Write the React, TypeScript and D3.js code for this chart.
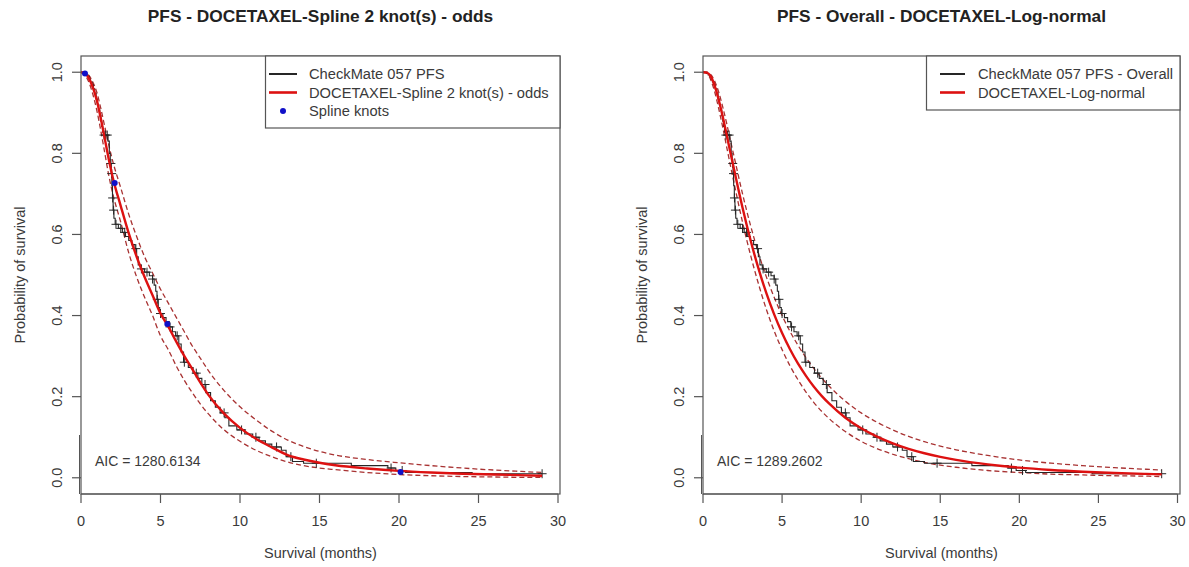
import React from 'react';
import * as d3 from 'd3';

// ---------- data ----------
const xTicks = [0, 5, 10, 15, 20, 25, 30];
const yTicks = [0, 0.2, 0.4, 0.6, 0.8, 1.0];

// Kaplan-Meier step points (time in months, survival after step)
const kmTimes = [0.23, 0.33, 0.43, 0.52, 0.6, 0.7, 0.78, 0.86, 0.95, 1.03, 1.1, 1.18, 1.25, 1.3, 1.36, 1.42, 1.7, 1.78, 1.84, 1.9, 1.94, 1.98, 2.02, 2.07, 2.15, 2.35, 2.6, 2.8, 3.0, 3.2, 3.4, 3.5, 3.6, 3.75, 4.0, 4.3, 4.5, 4.6, 4.7, 4.78, 4.86, 4.95, 5.15, 5.35, 5.55, 5.75, 5.95, 6.15, 6.3, 6.45, 6.75, 7.05, 7.35, 7.6, 7.85, 8.15, 8.45, 8.75, 9.05, 9.3, 9.8, 10.3, 10.8, 11.2, 11.6, 12.0, 12.6, 12.9, 13.3, 14.0, 17.0, 19.3, 19.8, 20.4, 24.6];
const kmSurv = [0.997, 0.993, 0.99, 0.983, 0.976, 0.969, 0.959, 0.948, 0.934, 0.921, 0.907, 0.893, 0.879, 0.866, 0.852, 0.845, 0.83, 0.8, 0.775, 0.75, 0.72, 0.69, 0.66, 0.64, 0.625, 0.615, 0.605, 0.595, 0.585, 0.575, 0.565, 0.545, 0.525, 0.515, 0.507, 0.498, 0.49, 0.475, 0.46, 0.44, 0.42, 0.405, 0.395, 0.385, 0.372, 0.36, 0.35, 0.33, 0.31, 0.285, 0.272, 0.258, 0.245, 0.23, 0.21, 0.19, 0.174, 0.16, 0.148, 0.128, 0.118, 0.108, 0.1, 0.091, 0.083, 0.076, 0.068, 0.052, 0.04, 0.036, 0.03, 0.024, 0.018, 0.013, 0.01];
const kmEnd = 29.0;
const censorTimes = [1.45, 1.55, 1.65, 1.88, 1.93, 1.99, 2.05, 2.2, 2.5, 2.75, 3.45, 3.8, 4.15, 4.5, 4.8, 5.0, 5.6, 6.05, 6.5, 7.25, 7.8, 9.0, 10.1, 11.0, 12.3, 13.2, 14.8, 19.5, 20.2, 29.0];

// fitted curves evaluated at these times
const fitTimes = [0, 0.25, 0.5, 0.75, 1, 1.25, 1.5, 1.75, 2, 2.5, 3, 3.5, 4, 4.5, 5, 5.5, 6, 6.5, 7, 7.5, 8, 9, 10, 11, 12, 13, 14, 15, 16, 18, 20, 22, 24, 26, 28, 29];

const splineFit = [1.0, 0.997, 0.985, 0.962, 0.93, 0.885, 0.835, 0.785, 0.74, 0.67, 0.603, 0.545, 0.495, 0.45, 0.405, 0.372, 0.335, 0.3, 0.268, 0.235, 0.205, 0.158, 0.123, 0.096, 0.075, 0.056, 0.045, 0.037, 0.031, 0.023, 0.017, 0.013, 0.01, 0.008, 0.006, 0.005];
const splineUpper = [1.0, 0.999, 0.992, 0.975, 0.95, 0.91, 0.865, 0.82, 0.78, 0.715, 0.65, 0.595, 0.545, 0.505, 0.465, 0.43, 0.395, 0.36, 0.325, 0.295, 0.265, 0.215, 0.175, 0.143, 0.115, 0.093, 0.077, 0.065, 0.056, 0.045, 0.037, 0.03, 0.024, 0.019, 0.015, 0.013];
const splineLower = [1.0, 0.993, 0.975, 0.945, 0.905, 0.855, 0.8, 0.745, 0.7, 0.63, 0.555, 0.495, 0.445, 0.4, 0.35, 0.315, 0.275, 0.24, 0.21, 0.182, 0.158, 0.118, 0.09, 0.068, 0.052, 0.039, 0.03, 0.024, 0.02, 0.013, 0.008, 0.005, 0.003, 0.002, 0.001, 0.001];

const lognormFit = [1.0, 0.999, 0.989, 0.965, 0.931, 0.89, 0.845, 0.799, 0.754, 0.666, 0.587, 0.517, 0.456, 0.403, 0.357, 0.317, 0.282, 0.252, 0.225, 0.202, 0.182, 0.148, 0.122, 0.1015, 0.085, 0.0713, 0.0605, 0.0516, 0.0441, 0.033, 0.0249, 0.0192, 0.015, 0.0119, 0.0095, 0.0085];
const lognormUpper = [1.0, 1.0, 0.994, 0.977, 0.95, 0.914, 0.873, 0.829, 0.786, 0.7, 0.623, 0.555, 0.496, 0.445, 0.4, 0.361, 0.327, 0.297, 0.27, 0.246, 0.225, 0.189, 0.16, 0.137, 0.118, 0.102, 0.089, 0.078, 0.069, 0.055, 0.044, 0.036, 0.03, 0.025, 0.021, 0.019];
const lognormLower = [1.0, 0.997, 0.98, 0.95, 0.909, 0.864, 0.815, 0.767, 0.72, 0.63, 0.55, 0.479, 0.416, 0.362, 0.316, 0.276, 0.242, 0.212, 0.186, 0.164, 0.145, 0.114, 0.09, 0.072, 0.058, 0.047, 0.038, 0.031, 0.026, 0.018, 0.013, 0.009, 0.007, 0.005, 0.004, 0.003];

const knotTimes = [0.25, 2.12, 5.43, 20.1];
const knotSurv = [0.997, 0.727, 0.379, 0.014];

const leftTitle = 'PFS - DOCETAXEL-Spline 2 knot(s) - odds';
const rightTitle = 'PFS - Overall - DOCETAXEL-Log-normal';
const leftLegend = ['CheckMate 057 PFS', 'DOCETAXEL-Spline 2 knot(s) - odds', 'Spline knots'];
const rightLegend = ['CheckMate 057 PFS - Overall', 'DOCETAXEL-Log-normal'];
const leftAic = 'AIC = 1280.6134';
const rightAic = 'AIC = 1289.2602';

// ---------- styles ----------
const FONT = '"Liberation Sans", Arial, Helvetica, sans-serif';
const TEXT = '#3a3a3a';
const AXIS = '#555';
const RED = '#dd1111';
const DASH = '#a83232';
const KM = '#262626';

type PanelProps = {
  x0: number; x30: number; boxRight: number;
  title: string; legend: string[]; aic: string;
  fit: number[]; upper: number[]; lower: number[];
  knots: boolean;
  legLeft: number; legBottom: number; lineX0: number; lineX1: number; textX: number;
};

function Panel(p: PanelProps) {
  const top = 56, bottom = 494;
  const x = d3.scaleLinear().domain([0, 30]).range([p.x0, p.x30]);
  const y = d3.scaleLinear().domain([-0.04, 1.04]).range([bottom, top]);

  const kmPts: [number, number][] = [[0, 1], ...kmTimes.map((t, i) => [t, kmSurv[i]] as [number, number]), [kmEnd, kmSurv[kmSurv.length - 1]]];
  const kmLine = d3.line<[number, number]>().x(d => x(d[0])).y(d => y(d[1])).curve(d3.curveStepAfter);
  const fitLine = d3.line<number>().x((_, i) => x(fitTimes[i])).y(d => y(d)).curve(d3.curveMonotoneX);

  const bis = d3.bisector((d: number) => d).right;
  const kmAt = (t: number) => {
    const i = bis(kmTimes, t);
    return i === 0 ? 1 : kmSurv[i - 1];
  };

  const cx = (p.x0 + p.boxRight) / 2;
  const rowY = [74, 92.5, 111];

  return (
    <g fontFamily={FONT}>
      <text x={cx} y={22} textAnchor="middle" fontWeight="bold" fontSize={17.3} fill="#222">{p.title}</text>

      {/* fitted curves */}
      <path d={fitLine(p.upper) || ''} fill="none" stroke={DASH} strokeWidth={1.3} strokeDasharray="5,3" />
      <path d={fitLine(p.lower) || ''} fill="none" stroke={DASH} strokeWidth={1.3} strokeDasharray="5,3" />
      {/* KM */}
      <path d={kmLine(kmPts) || ''} fill="none" stroke={KM} strokeWidth={1.1} />
      {censorTimes.map((t, i) => {
        const px = x(t), py = y(kmAt(t));
        return <path key={i} d={`M${px - 4.5},${py}H${px + 4.5}M${px},${py - 4.5}V${py + 4.5}`} stroke={KM} strokeWidth={1} />;
      })}
      <path d={fitLine(p.fit) || ''} fill="none" stroke={RED} strokeWidth={2.4} />
      {p.knots && knotTimes.map((t, i) => (
        <circle key={i} cx={x(t)} cy={y(knotSurv[i])} r={3} fill="#1010c8" />
      ))}

      {/* box */}
      <rect x={p.x0} y={top} width={p.boxRight - p.x0} height={bottom - top} fill="none" stroke={AXIS} strokeWidth={1.2} />
      <line x1={p.x0 - 1.5} x2={p.x0 - 1.5} y1={435} y2={bottom} stroke={AXIS} strokeWidth={1} />

      {/* y axis */}
      {yTicks.map(v => (
        <g key={v}>
          <line x1={p.x0} x2={p.x0 - 9} y1={y(v)} y2={y(v)} stroke={AXIS} strokeWidth={1.2} />
          <text transform={`translate(${p.x0 - 19},${y(v)}) rotate(-90)`} textAnchor="middle" fontSize={14.5} fill={TEXT}>{v.toFixed(1)}</text>
        </g>
      ))}
      <text transform={`translate(${p.x0 - 56},${(top + bottom) / 2}) rotate(-90)`} textAnchor="middle" fontSize={14.5} fill={TEXT}>Probability of survival</text>

      {/* x axis */}
      <line x1={x(0)} x2={x(30)} y1={bottom} y2={bottom} stroke={AXIS} strokeWidth={1.2} />
      {xTicks.map(v => (
        <g key={v}>
          <line x1={x(v)} x2={x(v)} y1={bottom} y2={bottom + 9} stroke={AXIS} strokeWidth={1.2} />
          <text x={x(v)} y={526} textAnchor="middle" fontSize={14.5} fill={TEXT}>{v}</text>
        </g>
      ))}
      <text x={cx} y={558} textAnchor="middle" fontSize={14.5} fill={TEXT}>Survival (months)</text>

      {/* AIC */}
      <text x={p.x0 + 14} y={466} fontSize={14} fill={TEXT}>{p.aic}</text>

      {/* legend */}
      <rect x={p.legLeft} y={top} width={p.boxRight - p.legLeft} height={p.legBottom - top} fill="#fff" stroke={AXIS} strokeWidth={1.2} />
      {p.legend.map((s, i) => (
        <g key={s}>
          {i === 0 && <line x1={p.lineX0} x2={p.lineX1} y1={rowY[i]} y2={rowY[i]} stroke={KM} strokeWidth={2} />}
          {i === 1 && <line x1={p.lineX0} x2={p.lineX1} y1={rowY[i]} y2={rowY[i]} stroke={RED} strokeWidth={2.6} />}
          {i === 2 && <circle cx={(p.lineX0 + p.lineX1) / 2} cy={rowY[i]} r={3} fill="#1010c8" />}
          <text x={p.textX} y={rowY[i] + 5} fontSize={14.7} fill={TEXT}>{s}</text>
        </g>
      ))}
    </g>
  );
}

export default function App() {
  return (
    <svg width={1189} height={567} style={{ position: 'absolute', left: 0, top: 0, background: '#fff' }}>
      <rect width={1189} height={567} fill="#fff" />
      <Panel x0={81} x30={558} boxRight={560} title={leftTitle} legend={leftLegend} aic={leftAic}
        fit={splineFit} upper={splineUpper} lower={splineLower} knots={true}
        legLeft={265.5} legBottom={128} lineX0={269} lineX1={297} textX={309} />
      <Panel x0={703} x30={1177.5} boxRight={1180} title={rightTitle} legend={rightLegend} aic={rightAic}
        fit={lognormFit} upper={lognormUpper} lower={lognormLower} knots={false}
        legLeft={926.5} legBottom={110} lineX0={940} lineX1={965} textX={978} />
    </svg>
  );
}
